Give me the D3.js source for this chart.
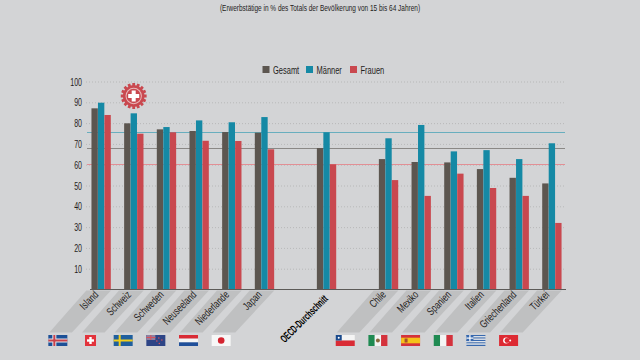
<!DOCTYPE html>
<html>
<head>
<meta charset="utf-8">
<script src="https://cdn.jsdelivr.net/npm/d3@7"></script>
<style>
  html, body { margin: 0; padding: 0; background: #d3d4d6; }
  svg { display: block; }
  text { font-family: "Liberation Sans", sans-serif; fill: #1f1d1c; }
</style>
</head>
<body>
<div id="chart"></div>
<script>
// Values
var leftCountries = ["Island", "Schweiz", "Schweden", "Neuseeland", "Niederlande", "Japan"];
var midCountries = ["OECD-Durchschnitt"];
var rightCountries = ["Chile", "Mexiko", "Spanien", "Italien", "Griechenland", "Türkei"];
var seriesNames = ["Gesamt", "Männer", "Frauen"];
var gesamt = [87.1, 79.9, 77, 76.2, 75.7, 75.4, 68, 62.7, 61.3, 61.1, 57.9, 53.7, 51];
var maenner = [89.8, 84.7, 78.1, 81.3, 80.4, 82.9, 75.6, 72.7, 79.1, 66.4, 67, 62.7, 70.3];
var frauen = [83.9, 74.9, 75.6, 71.5, 71.4, 67.4, 60.2, 52.6, 45, 55.7, 48.8, 45, 32];
var averages = [68, 75.6, 60.2];
var yTicks = [10, 20, 30, 40, 50, 60, 70, 80, 90, 100];

var width = 640;
var height = 360;
var colors = ["#5c5650", "#1589a5", "#c9484f"];
var avgColors = ["#8a8886", "#68aebe", "#e28f95"];
var bandColor = "#bfc0c1";

var svg = d3.select("#chart").append("svg")
  .attr("width", width)
  .attr("height", height)
  .attr("viewBox", "0 0 " + width + " " + height);

// the reference uses a condensed face, squeeze the installed one to match
function condense(sel, factor) {
  sel.each(function(d) {
    var f = typeof factor === "function" ? factor(d) : factor;
    this.setAttribute("textLength", this.getComputedTextLength() * f);
    this.setAttribute("lengthAdjust", "spacingAndGlyphs");
  });
}

/* Scales */
var y = d3.scaleLinear().domain([0, 100]).range([289.5, 81.5]);

function band(names, start, step) {
  return d3.scaleBand().domain(names)
    .range([start, start + step * names.length])
    .paddingInner(0.4).paddingOuter(0.2);
}
var xLeft = band(leftCountries, 84.8, 32.67);
var xMid = band(midCountries, 310.2, 32.67);
var xRight = band(rightCountries, 372.2, 32.67);
var allCountries = leftCountries.concat(midCountries, rightCountries);

function groupX(name) {
  if (leftCountries.indexOf(name) >= 0) return xLeft(name);
  if (midCountries.indexOf(name) >= 0) return xMid(name);
  return xRight(name);
}
function isMid(name) {
  return midCountries.indexOf(name) >= 0;
}
var xInner = d3.scaleBand().domain(seriesNames).range([0, xLeft.bandwidth()]).padding(0.02);
var values = { "Gesamt": gesamt, "Männer": maenner, "Frauen": frauen };

/* Title */
svg.append("text")
  .attr("x", 320).attr("y", 11)
  .attr("text-anchor", "middle")
  .style("font-size", "9px")
  .text("(Erwerbstätige in % des Totals der Bevölkerung von 15 bis 64 Jahren)")
  .call(condense, 0.72);

/* Slanted bands under the labels */
var slantX = 37;
var slantY = 43;
var bandCountries = leftCountries.concat(rightCountries);
svg.append("g").selectAll("path")
  .data(bandCountries).enter()
  .append("path")
  .attr("fill", bandColor)
  .attr("d", function(d) {
    var x0 = groupX(d) - 5;
    var x1 = groupX(d) + xLeft.bandwidth();
    return d3.line()([[x0, y(0) + 1], [x1, y(0) + 1], [x1 - slantX - 2, y(0) + slantY], [x0 - slantX, y(0) + slantY]]) + "Z";
  });

/* Axis and grid */
var yAxis = d3.axisLeft(y).tickValues(yTicks).tickSize(0).tickPadding(4);
var axisG = svg.append("g").attr("transform", "translate(86,0)").call(yAxis);
axisG.select(".domain").remove();
axisG.selectAll("text")
  .style("font-size", "11px").style("font-family", "Liberation Sans, sans-serif")
  .call(condense, 0.64);

var grid = d3.axisLeft(y).tickValues(yTicks).tickSize(-479).tickFormat("");
var gridG = svg.append("g").attr("transform", "translate(86,0)").call(grid);
gridG.select(".domain").remove();
gridG.selectAll("line").attr("stroke", "#adadae").attr("stroke-width", 0.7).attr("stroke-dasharray", "1 2");

/* Average lines */
svg.append("g").selectAll("line")
  .data(averages).enter()
  .append("line")
  .attr("x1", 87).attr("x2", 565)
  .attr("y1", function(d) { return Math.round(y(d)) + 0.5; })
  .attr("y2", function(d) { return Math.round(y(d)) + 0.5; })
  .attr("stroke", function(d, i) { return avgColors[i]; })
  .attr("stroke-width", 1);

/* Bars */
svg.append("g").selectAll("g")
  .data(seriesNames).enter()
  .append("g")
  .attr("fill", function(d, i) { return colors[i]; })
  .selectAll("rect")
  .data(function(s) {
    return allCountries.map(function(c, i) { return { country: c, series: s, val: values[s][i] }; });
  }).enter()
  .append("rect")
  .attr("x", function(d) { return groupX(d.country) + xInner(d.series); })
  .attr("y", function(d) { return y(d.val); })
  .attr("width", xInner.bandwidth())
  .attr("height", function(d) { return y(0) - y(d.val); });

/* Baseline */
svg.append("line")
  .attr("x1", 90).attr("x2", 566)
  .attr("y1", y(0)).attr("y2", y(0))
  .attr("stroke", "#5c5a58").attr("stroke-width", 1);

/* Country labels */
svg.append("g").selectAll("text")
  .data(allCountries).enter()
  .append("text")
  .attr("transform", function(d) {
    var cx = groupX(d) + xLeft.bandwidth() / 2 + (isMid(d) ? 2 : -2);
    return "translate(" + cx + "," + (y(0) + (isMid(d) ? 10 : 6)) + ") rotate(-45)";
  })
  .attr("text-anchor", "end")
  .style("font-size", "11px")
  .style("font-weight", function(d) { return isMid(d) ? "bold" : "normal"; })
  .style("fill", function(d) { return isMid(d) ? "#000" : null; })
  .text(function(d) { return d; })
  .call(condense, function(d) { return isMid(d) ? 0.6 : 0.72; });

/* Legend */
var legendX = [262.5, 306, 350];
var legend = svg.append("g").selectAll("g")
  .data(seriesNames).enter()
  .append("g")
  .attr("transform", function(d, i) { return "translate(" + legendX[i] + ",66)"; });
legend.append("rect")
  .attr("width", 7).attr("height", 7)
  .attr("fill", function(d, i) { return colors[i]; });
legend.append("text")
  .attr("x", 10.5).attr("y", 7.5)
  .style("font-size", "11px")
  .text(function(d) { return d; })
  .call(condense, 0.68);

/* Gear badge on Schweiz */
var gearX = 133.7;
var gearY = 96;
var gearPts = [];
d3.range(16).forEach(function(i) {
  var a = i * 2 * Math.PI / 16;
  var w = Math.PI / 16 * 0.55;
  gearPts.push([a - w * 1.2, 10.8], [a - w, 13], [a + w, 13], [a + w * 1.2, 10.8]);
});
var gear = svg.append("g").attr("transform", "translate(" + gearX + "," + gearY + ")");
gear.append("path")
  .attr("d", d3.lineRadial().curve(d3.curveLinearClosed)(gearPts))
  .attr("fill", "#c9484f");
gear.append("circle").attr("r", 8.2).attr("fill", "#e9b9bb");
gear.append("circle").attr("r", 7.2).attr("fill", "#c9484f");
gear.append("rect").attr("x", -5.5).attr("y", -2).attr("width", 11).attr("height", 4).attr("fill", "#fff");
gear.append("rect").attr("x", -2).attr("y", -5.5).attr("width", 4).attr("height", 11).attr("fill", "#fff");

/* Flags, drawn in a box of 19 x 11 around their centre */
function box(g, x, y0, w, h, c) {
  g.append("rect").attr("x", x).attr("y", y0).attr("width", w).attr("height", h).attr("fill", c);
}
function hStripes(g, cols) {
  cols.forEach(function(c, i) { box(g, -9.5, -5.5 + i * 11 / cols.length, 19, 11 / cols.length, c); });
}
function vStripes(g, cols) {
  cols.forEach(function(c, i) { box(g, -9.5 + i * 19 / cols.length, -5.5, 19 / cols.length, 11, c); });
}
var flagDraw = {
  "Island": function(g) {
    box(g, -9.5, -5.5, 19, 11, "#1c4f96");
    box(g, -9.5, -2, 19, 4, "#e3e6ea"); box(g, -5.5, -5.5, 4, 11, "#e3e6ea");
    box(g, -9.5, -1, 19, 2, "#c9404a"); box(g, -4.5, -5.5, 2, 11, "#c9404a");
  },
  "Schweiz": function(g) {
    box(g, -5.5, -5.5, 11, 11, "#e2333c");
    box(g, -3.5, -1.2, 7, 2.4, "#fff"); box(g, -1.2, -3.5, 2.4, 7, "#fff");
  },
  "Schweden": function(g) {
    box(g, -9.5, -5.5, 19, 11, "#1f5f9e");
    box(g, -9.5, -1, 19, 2, "#f2cf1d"); box(g, -4.5, -5.5, 2, 11, "#f2cf1d");
  },
  "Neuseeland": function(g) {
    box(g, -9.5, -5.5, 19, 11, "#2d4486");
    box(g, -9.5, -5.5, 9, 5, "#8f7f9f");
    box(g, -9.5, -3.5, 9, 1, "#d9505a"); box(g, -5.5, -5.5, 1, 5, "#d9505a");
    [[3, -2.5], [6, -0.5], [1, 0.5], [3.5, 3]].forEach(function(p) {
      g.append("circle").attr("cx", p[0]).attr("cy", p[1]).attr("r", 0.8).attr("fill", "#d9505a");
    });
  },
  "Niederlande": function(g) { hStripes(g, ["#d92b35", "#f4f4f4", "#1f4f9a"]); },
  "Japan": function(g) {
    box(g, -9.5, -5.5, 19, 11, "#f7f7f7");
    g.append("circle").attr("r", 3.3).attr("fill", "#d4232f");
  },
  "Chile": function(g) {
    hStripes(g, ["#f4f4f4", "#d92b35"]);
    box(g, -9.5, -5.5, 6, 5.5, "#1a4a8c");
    g.append("circle").attr("cx", -6.5).attr("cy", -2.7).attr("r", 1).attr("fill", "#fff");
  },
  "Mexiko": function(g) {
    vStripes(g, ["#1f8a52", "#f4f4f4", "#d4323c"]);
    g.append("circle").attr("r", 2).attr("fill", "#8a6a3e");
  },
  "Spanien": function(g) {
    box(g, -9.5, -5.5, 19, 11, "#d4323c");
    box(g, -9.5, -2.8, 19, 5.6, "#f5c21a");
    box(g, -6, -2, 3, 4, "#a8502a");
  },
  "Italien": function(g) { vStripes(g, ["#1f8a52", "#f4f4f4", "#d4323c"]); },
  "Griechenland": function(g) {
    hStripes(g, ["#3768ae", "#e4e8ee", "#3768ae", "#e4e8ee", "#3768ae", "#e4e8ee", "#3768ae", "#e4e8ee", "#3768ae"]);
    box(g, -9.5, -5.5, 7, 6.1, "#3768ae");
    box(g, -9.5, -3, 7, 1.2, "#fff"); box(g, -6.6, -5.5, 1.2, 6.1, "#fff");
  },
  "Türkei": function(g) {
    box(g, -9.5, -5.5, 19, 11, "#dd2a33");
    g.append("circle").attr("cx", -2.5).attr("r", 3).attr("fill", "#fff");
    g.append("circle").attr("cx", -1.6).attr("r", 2.4).attr("fill", "#dd2a33");
    g.append("circle").attr("cx", 1.6).attr("r", 1).attr("fill", "#fff");
  }
};
svg.append("g").selectAll("g")
  .data(bandCountries).enter()
  .append("g")
  .attr("transform", function(d) {
    return "translate(" + (groupX(d) + xLeft.bandwidth() / 2 - 43.3) + ",340.5)";
  })
  .each(function(d) { flagDraw[d](d3.select(this)); });
</script>
</body>
</html>
